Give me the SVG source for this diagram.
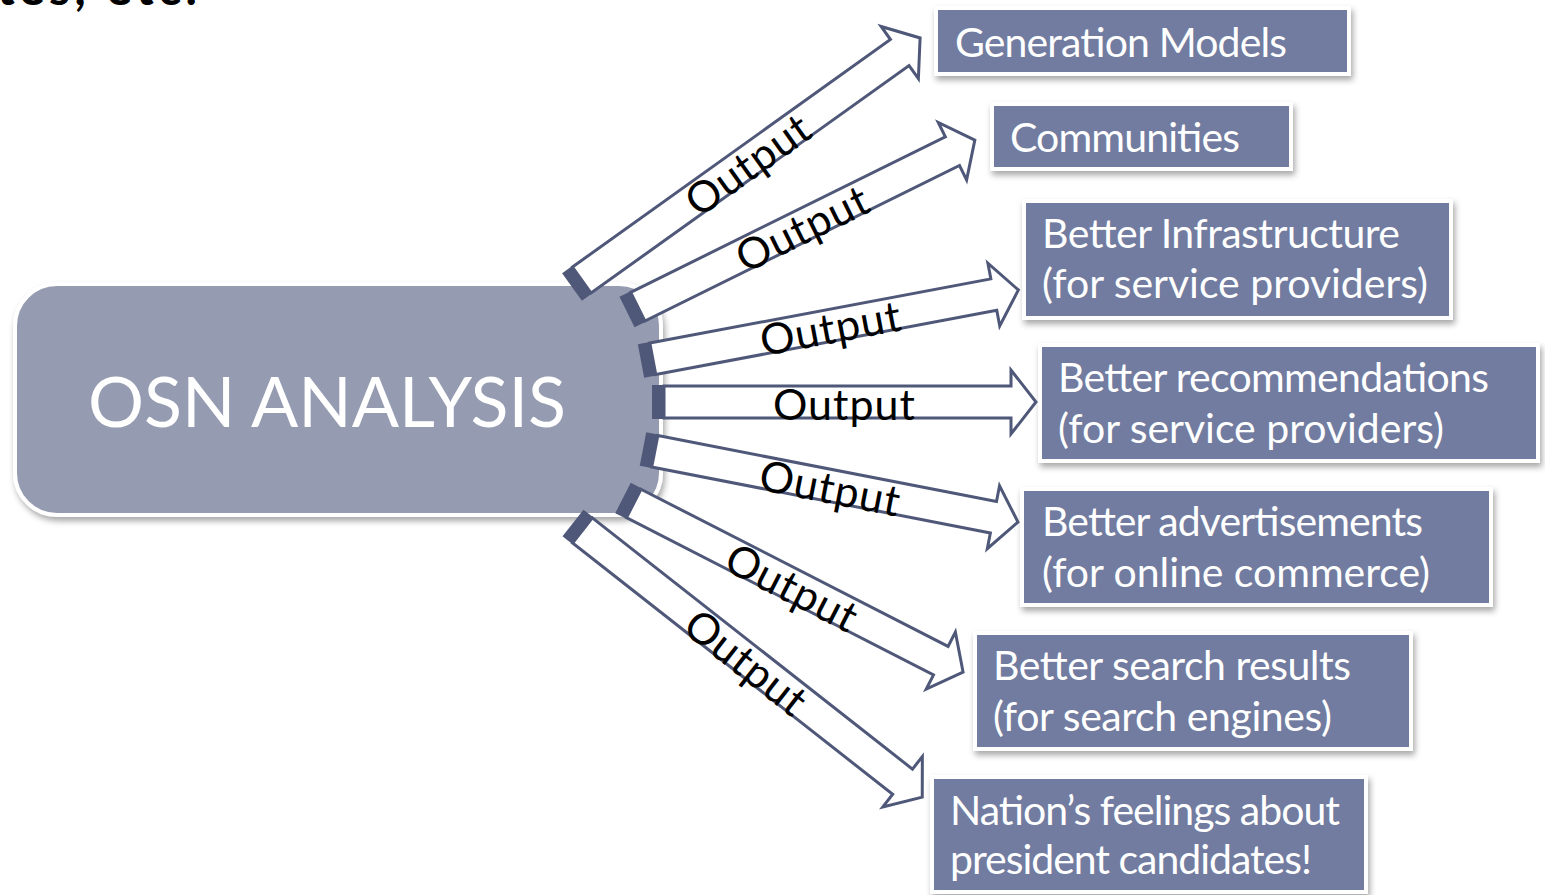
<svg xmlns="http://www.w3.org/2000/svg" width="1545" height="895" viewBox="0 0 1545 895">
<defs>
<filter id="sh" x="-10%" y="-20%" width="120%" height="150%">
<feDropShadow dx="2" dy="4" stdDeviation="3" flood-color="#000" flood-opacity="0.35"/>
</filter>
<style>
.box{fill:#717BA0;stroke:#fff;stroke-width:4;filter:url(#sh)}
.bt{font-family:Lato,"Open Sans",sans-serif;font-size:41px;fill:#fff}
.bar{fill:#4F5878}
.arr{fill:#fff;stroke:#4F5878;stroke-width:3;stroke-linejoin:miter}
.lbl{font-family:Lato,"Open Sans",sans-serif;font-size:43px;fill:#000;text-anchor:middle}
</style>
</defs>
<rect width="1545" height="895" fill="#fff"/>
<text x="-3" y="5" font-family="Lato,sans-serif" font-weight="bold" font-size="48" textLength="200" fill="#000">tes, etc.</text>

<g id="n-generation">
<rect class="box" x="936" y="8" width="413" height="66"/>
<text class="bt" x="955" y="57" textLength="332">Generation Models</text>
</g>
<g id="n-communities">
<rect class="box" x="992" y="104" width="299" height="65"/>
<text class="bt" x="1010" y="152" textLength="230">Communities</text>
</g>
<g id="n-infrastructure">
<rect class="box" x="1024" y="201" width="427" height="117"/>
<text class="bt" x="1042" y="248" textLength="358">Better Infrastructure</text>
<text class="bt" x="1042" y="298" textLength="386">(for service providers)</text>
</g>
<g id="n-recommendations">
<rect class="box" x="1040" y="345" width="498" height="116"/>
<text class="bt" x="1058" y="392" textLength="431">Better recommendations</text>
<text class="bt" x="1058" y="443" textLength="386">(for service providers)</text>
</g>
<g id="n-advertisements">
<rect class="box" x="1022" y="489" width="469" height="116"/>
<text class="bt" x="1042" y="536" textLength="381">Better advertisements</text>
<text class="bt" x="1042" y="587" textLength="388">(for online commerce)</text>
</g>
<g id="n-search">
<rect class="box" x="975" y="633" width="436" height="116"/>
<text class="bt" x="993" y="680" textLength="358">Better search results</text>
<text class="bt" x="993" y="731" textLength="339">(for search engines)</text>
</g>
<g id="n-nation">
<rect class="box" x="932" y="777" width="434" height="115"/>
<text class="bt" x="950" y="825" textLength="390">Nation’s feelings about</text>
<text class="bt" x="950" y="874" textLength="362">president candidates!</text>
</g>

<g id="n-osn">
<rect x="15" y="284" width="646" height="231" rx="42" fill="#959BB0" stroke="#fff" stroke-width="4" filter="url(#sh)"/>
<text x="88" y="427" font-family="Lato,'Open Sans',sans-serif" font-size="70" fill="#fff" textLength="478">OSN ANALYSIS</text>
</g>

<g id="connectors">
<g transform="translate(572,287) rotate(-35.58)">
<rect class="bar" x="0" y="-17" width="12" height="34"/>
<polygon class="arr" points="12,-16 403,-16 403,-32 428,0 403,32 403,16 12,16"/>
<text class="lbl" x="214" y="18" textLength="142">Output</text>
</g>
<g transform="translate(627,312) rotate(-26.30)">
<rect class="bar" x="0" y="-17" width="12" height="34"/>
<polygon class="arr" points="12,-16 363,-16 363,-32 388,0 363,32 363,16 12,16"/>
<text class="lbl" x="194" y="18" textLength="142">Output</text>
</g>
<g transform="translate(641,361) rotate(-10.66)">
<rect class="bar" x="0" y="-17" width="12" height="34"/>
<polygon class="arr" points="12,-16 359,-16 359,-32 384,0 359,32 359,16 12,16"/>
<text class="lbl" x="192" y="18" textLength="142">Output</text>
</g>
<g transform="translate(652,402)">
<rect class="bar" x="0" y="-17" width="12" height="34"/>
<polygon class="arr" points="12,-16 359,-16 359,-32 384,0 359,32 359,16 12,16"/>
<text class="lbl" x="192" y="18" textLength="142">Output</text>
</g>
<g transform="translate(643,449) rotate(11.02)">
<rect class="bar" x="0" y="-17" width="12" height="34"/>
<polygon class="arr" points="12,-16 357,-16 357,-32 382,0 357,32 357,16 12,16"/>
<text class="lbl" x="191" y="18" textLength="142">Output</text>
</g>
<g transform="translate(623,498) rotate(27.10)">
<rect class="bar" x="0" y="-17" width="12" height="34"/>
<polygon class="arr" points="12,-16 357,-16 357,-32 382,0 357,32 357,16 12,16"/>
<text class="lbl" x="191" y="18" textLength="142">Output</text>
</g>
<g transform="translate(573,523) rotate(38.13)">
<rect class="bar" x="0" y="-17" width="12" height="34"/>
<polygon class="arr" points="12,-16 419,-16 419,-32 444,0 419,32 419,16 12,16"/>
<text class="lbl" x="222" y="18" textLength="142">Output</text>
</g>
</g>
</svg>
